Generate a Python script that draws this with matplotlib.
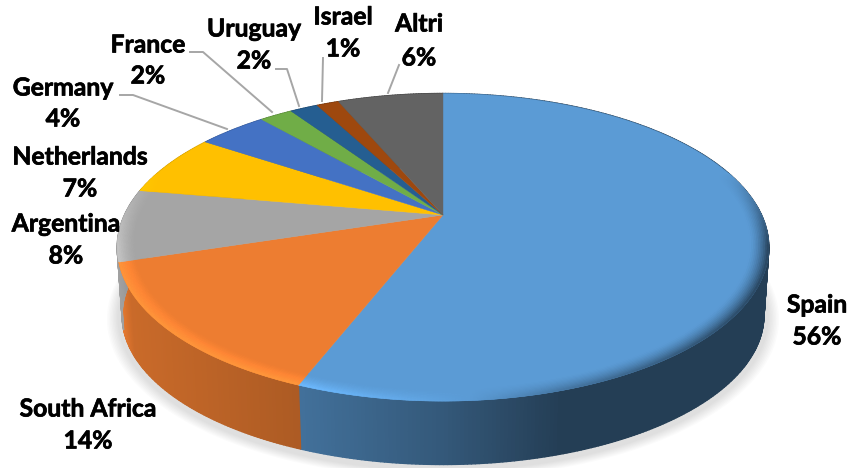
import matplotlib
matplotlib.use('Agg')
import matplotlib.pyplot as plt
import matplotlib.patheffects as pe
from matplotlib.collections import PolyCollection
from matplotlib.colors import to_rgb
import numpy as np

# Clockwise from 12 o'clock
countries = ['Spain', 'South Africa', 'Argentina', 'Netherlands', 'Germany',
             'France', 'Uruguay', 'Israel', 'Altri']
shares = [55.95, 14.2, 7.6, 6.6, 4.2, 2.0, 1.7, 1.35, 6.4]
share_labels = ['56%', '14%', '8%', '7%', '4%', '2%', '2%', '1%', '6%']
colors = ['#5b9bd5', '#ed7d31', '#a5a5a5', '#ffc000', '#4472c4',
          '#70ad47', '#255e91', '#9e480e', '#636363']

# Label centres in pixels: x, first line y, second line y
label_pos = [(817, 305, 337), (88, 409, 441), (66, 224, 256), (80, 157, 189),
             (63, 88, 119), (148, 45, 76), (254, 29, 61), (343, 17, 49), (419, 24, 58)]

# Leader lines for the small slices
leaders = {'Germany': [(120, 95), (133, 95), (227, 129)],
           'France': [(190, 52), (203, 52), (272, 112)],
           'Uruguay': [(276, 69), (287, 69), (299, 106)],
           'Israel': [(323, 58), (322, 101)],
           'Altri': [(399, 65), (388, 93)]}

# Perspective disc: apex position and foreshortening
APEX_X, APEX_Y = 443, 215
A, B, K = 318.5, 147, 0.21
DEPTH = 69


def project(theta, r=1.0, a=A, b=B, y0=APEX_Y):
    den = 1 + K * r * np.cos(theta)
    return APEX_X + a * r * np.sin(theta) / den, y0 - b * r * np.cos(theta) / den


def side_shade(x):
    return np.interp(x, [115, 130, 295, 443, 560, 780], [1.0, 0.85, 0.73, 0.57, 0.40, 0.40])


def rim_gain(x):
    return np.interp(x, [115, 295, 400, 470, 560, 780], [0.2, 0.22, 0.1, 0.0, -0.25, -0.6])


fig = plt.figure(figsize=(8.52, 4.68), dpi=100)
ax = fig.add_axes([0, 0, 1, 1])
ax.set_xlim(0, 852)
ax.set_ylim(468, 0)
ax.axis('off')

edges = np.radians(np.concatenate([[0], np.cumsum(shares)]) * 3.6)

# soft shadow under the disc
t = np.linspace(0, 2 * np.pi, 300)
for grow in np.linspace(1.03, 1.0, 8):
    x, y = project(t, grow, A, B, APEX_Y + DEPTH + 1)
    ax.fill(x, y, color='#808080', alpha=0.03, lw=0, zorder=1)

# side wall
polys, cols = [], []
for i, col in enumerate(colors):
    base = np.array(to_rgb(col))
    th = np.arange(edges[i], edges[i + 1] + 0.01, 0.01)
    th[-1] = edges[i + 1]
    for t0, t1 in zip(th[:-1], th[1:]):
        x0, y0 = project(t0)
        x1, y1 = project(t1)
        x2, y2 = project(t1, 1, A * 0.985, B * 0.97, APEX_Y + DEPTH)
        x3, y3 = project(t0, 1, A * 0.985, B * 0.97, APEX_Y + DEPTH)
        polys.append([(x0, y0), (x1, y1), (x2, y2), (x3, y3)])
        cols.append(np.clip(base * side_shade((x0 + x1) / 2), 0, 1))
ax.add_collection(PolyCollection(polys, facecolors=cols, edgecolors=cols, linewidths=1.0, zorder=2))

# flat top face
for i, col in enumerate(colors):
    th = np.linspace(edges[i], edges[i + 1], 120)
    x, y = project(th)
    ax.fill(np.r_[APEX_X, x], np.r_[APEX_Y, y], color=col, lw=0.3, zorder=3)

# bevel along the front rim
radii = np.linspace(0.945, 1.0, 12)
polys, cols = [], []
for i, col in enumerate(colors):
    base = np.array(to_rgb(col))
    th = np.arange(edges[i], edges[i + 1] + 0.008, 0.008)
    th[-1] = edges[i + 1]
    for t0, t1 in zip(th[:-1], th[1:]):
        tm = (t0 + t1) / 2
        fade = np.clip((0.3 - np.cos(tm)) / 0.5, 0, 1)
        if fade == 0:
            continue
        for r0, r1 in zip(radii[:-1], radii[1:]):
            x0, y0 = project(t0, r0)
            x1, y1 = project(t1, r0)
            x2, y2 = project(t1, r1)
            x3, y3 = project(t0, r1)
            p = (((r0 + r1) / 2 - radii[0]) / (1 - radii[0])) ** 1.5
            c = np.clip(base * (1 + rim_gain((x0 + x1) / 2) * p * fade), 0, 1)
            polys.append([(x0, y0), (x1, y1), (x2, y2), (x3, y3)])
            cols.append(c)
ax.add_collection(PolyCollection(polys, facecolors=cols, edgecolors=cols, linewidths=0.4, zorder=4))

for name, pts in leaders.items():
    xs, ys = zip(*pts)
    ax.plot(xs, ys, color='#a6a6a6', lw=1.4, zorder=5)

heavier = [pe.withStroke(linewidth=0.5, foreground='black')]
for name, lab, (lx, y1, y2) in zip(countries, share_labels, label_pos):
    for s, ly in ((name, y1), (lab, y2)):
        ax.text(lx, ly, s, ha='center', va='center', family='Lato', weight='bold', fontsize=17.8,
                color='black', zorder=6, path_effects=heavier)

fig.savefig('out.png', dpi=100)
